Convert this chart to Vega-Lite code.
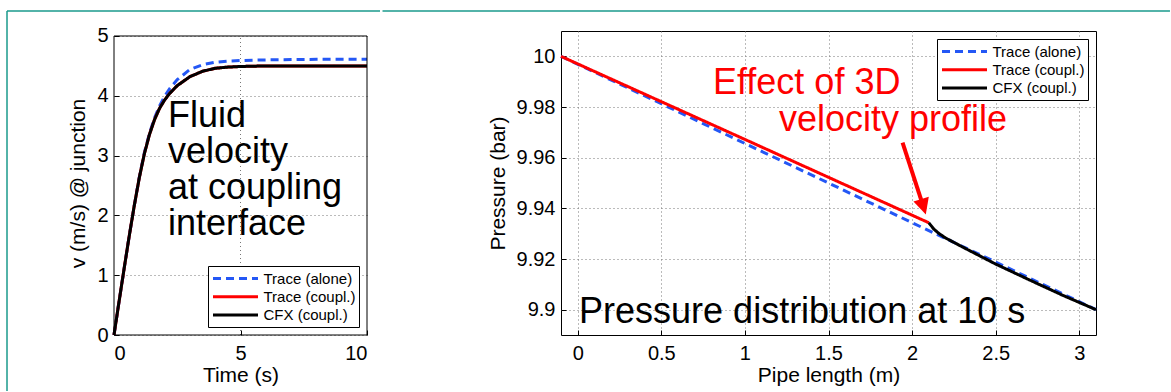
{
  "$schema": "https://vega.github.io/schema/vega-lite/v6.json",
  "padding": {"left": 6, "top": 9, "right": 0, "bottom": 0},
  "background": "white",
  "spacing": 0,
  "columns": 2,
  "align": "none",
  "config": {
    "font": "Liberation Sans",
    "view": {"stroke": "black", "strokeWidth": 1},
    "axis": {
      "domain": false,
      "labelFont": "Liberation Sans",
      "labelFontSize": 20,
      "labelColor": "black",
      "titleFont": "Liberation Sans",
      "titleFontSize": 21,
      "titleFontWeight": "normal",
      "titleColor": "black",
      "tickColor": "black",
      "tickSize": -5,
      "labelPadding": 13,
      "grid": true,
      "gridColor": "#777777",
      "gridDash": [1, 3],
      "gridWidth": 1,
      "gridOpacity": 1
    },
    "axisY": {"titlePadding": 8, "labelPadding": 11},
    "axisX": {"titlePadding": 1},
    "legend": {
      "symbolType": "M-3,0H3",
      "symbolSize": 225,
      "symbolStrokeWidth": 3,
      "symbolOffset": 15,
      "labelFont": "Liberation Sans",
      "labelFontSize": 15,
      "labelColor": "black",
      "labelOffset": 19,
      "rowPadding": 1.3,
      "padding": 3.5,
      "strokeColor": "black",
      "fillColor": "white",
      "cornerRadius": 0,
      "offset": 8
    }
  },
  "datasets": {
    "vel": [
      {"series": "Trace (alone)", "t": 0, "v": 0},
      {"series": "Trace (alone)", "t": 0.2, "v": 0.56},
      {"series": "Trace (alone)", "t": 0.4, "v": 1.11},
      {"series": "Trace (alone)", "t": 0.6, "v": 1.65},
      {"series": "Trace (alone)", "t": 0.8, "v": 2.16},
      {"series": "Trace (alone)", "t": 1.0, "v": 2.64},
      {"series": "Trace (alone)", "t": 1.2, "v": 3.05},
      {"series": "Trace (alone)", "t": 1.4, "v": 3.37},
      {"series": "Trace (alone)", "t": 1.6, "v": 3.63},
      {"series": "Trace (alone)", "t": 1.8, "v": 3.83},
      {"series": "Trace (alone)", "t": 2.0, "v": 3.99},
      {"series": "Trace (alone)", "t": 2.2, "v": 4.12},
      {"series": "Trace (alone)", "t": 2.5, "v": 4.27},
      {"series": "Trace (alone)", "t": 3.0, "v": 4.44},
      {"series": "Trace (alone)", "t": 3.5, "v": 4.52},
      {"series": "Trace (alone)", "t": 4.0, "v": 4.56},
      {"series": "Trace (alone)", "t": 4.5, "v": 4.58},
      {"series": "Trace (alone)", "t": 5.0, "v": 4.59},
      {"series": "Trace (alone)", "t": 6.0, "v": 4.6},
      {"series": "Trace (alone)", "t": 8.0, "v": 4.61},
      {"series": "Trace (alone)", "t": 10.0, "v": 4.61},
      {"series": "Trace (coupl.)", "t": 0, "v": 0},
      {"series": "Trace (coupl.)", "t": 0.2, "v": 0.56},
      {"series": "Trace (coupl.)", "t": 0.4, "v": 1.11},
      {"series": "Trace (coupl.)", "t": 0.6, "v": 1.65},
      {"series": "Trace (coupl.)", "t": 0.8, "v": 2.16},
      {"series": "Trace (coupl.)", "t": 1.0, "v": 2.63},
      {"series": "Trace (coupl.)", "t": 1.2, "v": 3.03},
      {"series": "Trace (coupl.)", "t": 1.4, "v": 3.35},
      {"series": "Trace (coupl.)", "t": 1.6, "v": 3.6},
      {"series": "Trace (coupl.)", "t": 1.8, "v": 3.79},
      {"series": "Trace (coupl.)", "t": 2.0, "v": 3.93},
      {"series": "Trace (coupl.)", "t": 2.2, "v": 4.04},
      {"series": "Trace (coupl.)", "t": 2.5, "v": 4.17},
      {"series": "Trace (coupl.)", "t": 3.0, "v": 4.32},
      {"series": "Trace (coupl.)", "t": 3.5, "v": 4.41},
      {"series": "Trace (coupl.)", "t": 4.0, "v": 4.46},
      {"series": "Trace (coupl.)", "t": 4.5, "v": 4.48},
      {"series": "Trace (coupl.)", "t": 5.0, "v": 4.49},
      {"series": "Trace (coupl.)", "t": 6.0, "v": 4.5},
      {"series": "Trace (coupl.)", "t": 8.0, "v": 4.5},
      {"series": "Trace (coupl.)", "t": 10.0, "v": 4.5},
      {"series": "CFX (coupl.)", "t": 0, "v": 0},
      {"series": "CFX (coupl.)", "t": 0.2, "v": 0.56},
      {"series": "CFX (coupl.)", "t": 0.4, "v": 1.11},
      {"series": "CFX (coupl.)", "t": 0.6, "v": 1.65},
      {"series": "CFX (coupl.)", "t": 0.8, "v": 2.16},
      {"series": "CFX (coupl.)", "t": 1.0, "v": 2.63},
      {"series": "CFX (coupl.)", "t": 1.2, "v": 3.03},
      {"series": "CFX (coupl.)", "t": 1.4, "v": 3.35},
      {"series": "CFX (coupl.)", "t": 1.6, "v": 3.6},
      {"series": "CFX (coupl.)", "t": 1.8, "v": 3.79},
      {"series": "CFX (coupl.)", "t": 2.0, "v": 3.93},
      {"series": "CFX (coupl.)", "t": 2.2, "v": 4.04},
      {"series": "CFX (coupl.)", "t": 2.5, "v": 4.17},
      {"series": "CFX (coupl.)", "t": 3.0, "v": 4.32},
      {"series": "CFX (coupl.)", "t": 3.5, "v": 4.41},
      {"series": "CFX (coupl.)", "t": 4.0, "v": 4.46},
      {"series": "CFX (coupl.)", "t": 4.5, "v": 4.48},
      {"series": "CFX (coupl.)", "t": 5.0, "v": 4.49},
      {"series": "CFX (coupl.)", "t": 6.0, "v": 4.5},
      {"series": "CFX (coupl.)", "t": 8.0, "v": 4.5},
      {"series": "CFX (coupl.)", "t": 10.0, "v": 4.5}
    ],
    "pres": [
      {"series": "Trace (alone)", "x": -0.1, "p": 10.0},
      {"series": "Trace (alone)", "x": 0.5, "p": 9.9813},
      {"series": "Trace (alone)", "x": 1.0, "p": 9.9656},
      {"series": "Trace (alone)", "x": 1.5, "p": 9.95},
      {"series": "Trace (alone)", "x": 2.1, "p": 9.9312},
      {"series": "Trace (alone)", "x": 2.5, "p": 9.9188},
      {"series": "Trace (alone)", "x": 3.1, "p": 9.9},
      {"series": "Trace (coupl.)", "x": -0.1, "p": 10.0},
      {"series": "Trace (coupl.)", "x": 1.0, "p": 9.9672},
      {"series": "Trace (coupl.)", "x": 2.1, "p": 9.9343},
      {"series": "CFX (coupl.)", "x": 2.1, "p": 9.9343},
      {"series": "CFX (coupl.)", "x": 2.13, "p": 9.9318},
      {"series": "CFX (coupl.)", "x": 2.16, "p": 9.9301},
      {"series": "CFX (coupl.)", "x": 2.2, "p": 9.9283},
      {"series": "CFX (coupl.)", "x": 2.3, "p": 9.9248},
      {"series": "CFX (coupl.)", "x": 2.4, "p": 9.9214},
      {"series": "CFX (coupl.)", "x": 2.5, "p": 9.918},
      {"series": "CFX (coupl.)", "x": 2.7, "p": 9.9118},
      {"series": "CFX (coupl.)", "x": 2.9, "p": 9.9057},
      {"series": "CFX (coupl.)", "x": 3.1, "p": 9.9}
    ]
  },
  "concat": [
    {
      "width": 253,
      "height": 304,
      "view": {"stroke": null},
      "layer": [
        {
          "data": {"values": [{}]},
          "mark": {"type": "rule", "color": "#777777", "strokeWidth": 1, "strokeDash": [1, 3]},
          "encoding": {"x": {"datum": 5}, "y": {"datum": 0}, "y2": {"datum": 5}}
        },
        {
          "data": {"name": "vel"},
          "mark": {"type": "line", "strokeWidth": 3},
          "encoding": {
            "x": {"field": "t", "type": "quantitative", "scale": {"domain": [0, 10], "nice": false, "zero": false}, "axis": {"title": "Time (s)", "values": [0, 5, 10], "format": "d", "grid": false}},
            "y": {"field": "v", "type": "quantitative", "scale": {"domain": [0, 5.0836], "nice": false, "zero": false}, "axis": {"title": "v (m/s) @ junction", "values": [0, 1, 2, 3, 4, 5], "format": "d"}},
            "color": {"field": "series", "type": "nominal", "scale": {"domain": ["Trace (alone)", "Trace (coupl.)", "CFX (coupl.)"], "range": ["#2457f5", "#ff0000", "#000000"]}, "legend": {"title": null, "orient": "bottom-right"}},
            "strokeDash": {"field": "series", "type": "nominal", "scale": {"domain": ["Trace (alone)", "Trace (coupl.)", "CFX (coupl.)"], "range": [[8, 5], [1, 0], [1, 0]]}, "legend": {"title": null, "orient": "bottom-right"}}
          }
        },
        {
          "data": {"values": [{}]},
          "mark": {"type": "rule", "color": "black", "strokeWidth": 1},
          "encoding": {"x": {"datum": 0}, "x2": {"datum": 10}, "y": {"datum": 5}}
        },
        {
          "data": {"values": [{}]},
          "mark": {"type": "rule", "color": "black", "strokeWidth": 1},
          "encoding": {"x": {"datum": 0}, "x2": {"datum": 10}, "y": {"datum": 0}}
        },
        {
          "data": {"values": [{}]},
          "mark": {"type": "rule", "color": "black", "strokeWidth": 1},
          "encoding": {"x": {"datum": 0}, "y": {"datum": 0}, "y2": {"datum": 5}}
        },
        {
          "data": {"values": [{}]},
          "mark": {"type": "rule", "color": "black", "strokeWidth": 1},
          "encoding": {"x": {"datum": 10}, "y": {"datum": 0}, "y2": {"datum": 5}}
        },
        {
          "data": {"values": [{}]},
          "mark": {"type": "text", "align": "left", "baseline": "alphabetic", "fontSize": 36, "lineHeight": 36, "color": "black", "font": "Liberation Sans"},
          "encoding": {
            "x": {"datum": 2.134},
            "y": {"datum": 3.478},
            "text": {"value": ["Fluid", "velocity", "at coupling", "interface"]}
          }
        },
        {
          "data": {"values": [{}]},
          "mark": {"type": "rule", "color": "#1a9a8c", "strokeWidth": 1.5},
          "encoding": {
            "x": {"datum": -4.229},
            "x2": {"datum": 10.514},
            "y": {"datum": 5.418}
          }
        },
        {
          "data": {"values": [{}]},
          "mark": {"type": "rule", "color": "#1a9a8c", "strokeWidth": 1.5},
          "encoding": {
            "x": {"datum": -4.229},
            "y": {"datum": 5.418},
            "y2": {"datum": -0.936}
          }
        }
      ]
    },
    {
      "width": 535,
      "height": 304,
      "layer": [
        {
          "data": {"name": "pres"},
          "mark": {"type": "line", "strokeWidth": 3},
          "encoding": {
            "x": {"field": "x", "type": "quantitative", "scale": {"domain": [-0.1, 3.1], "nice": false, "zero": false}, "axis": {"title": "Pipe length (m)", "values": [0, 0.5, 1, 1.5, 2, 2.5, 3], "format": "~g"}},
            "y": {"field": "p", "type": "quantitative", "scale": {"domain": [9.89, 10.01], "nice": false, "zero": false}, "axis": {"title": "Pressure (bar)", "values": [9.9, 9.92, 9.94, 9.96, 9.98, 10], "format": "~g"}},
            "color": {"field": "series", "type": "nominal", "scale": {"domain": ["Trace (alone)", "Trace (coupl.)", "CFX (coupl.)"], "range": ["#2457f5", "#ff0000", "#000000"]}, "legend": {"title": null, "orient": "top-right"}},
            "strokeDash": {"field": "series", "type": "nominal", "scale": {"domain": ["Trace (alone)", "Trace (coupl.)", "CFX (coupl.)"], "range": [[8, 5], [1, 0], [1, 0]]}, "legend": {"title": null, "orient": "top-right"}}
          }
        },
        {
          "data": {"values": [{}]},
          "mark": {"type": "text", "align": "left", "baseline": "alphabetic", "fontSize": 36, "color": "#ff0000", "font": "Liberation Sans"},
          "encoding": {"x": {"datum": 0.809}, "y": {"datum": 9.9852}, "text": {"value": "Effect of 3D"}}
        },
        {
          "data": {"values": [{}]},
          "mark": {"type": "text", "align": "left", "baseline": "alphabetic", "fontSize": 36, "color": "#ff0000", "font": "Liberation Sans"},
          "encoding": {"x": {"datum": 1.204}, "y": {"datum": 9.9705}, "text": {"value": "velocity profile"}}
        },
        {
          "data": {"values": [{}]},
          "mark": {"type": "text", "align": "left", "baseline": "alphabetic", "fontSize": 36, "color": "black", "font": "Liberation Sans"},
          "encoding": {"x": {"datum": 0.008}, "y": {"datum": 9.8947}, "text": {"value": "Pressure distribution at 10 s"}}
        },
        {
          "data": {"values": [{}]},
          "mark": {"type": "rule", "color": "#ff0000", "strokeWidth": 4},
          "encoding": {"x": {"datum": 1.943}, "y": {"datum": 9.9659}, "x2": {"datum": 2.068}, "y2": {"datum": 9.9406}}
        },
        {
          "data": {"values": [{}]},
          "mark": {"type": "point", "shape": "M-1,-1L1,-1L0,1Z", "size": 256, "angle": -17, "filled": true, "color": "#ff0000", "opacity": 1},
          "encoding": {"x": {"datum": 2.068}, "y": {"datum": 9.9406}}
        },
        {
          "data": {"values": [{}]},
          "mark": {"type": "rule", "color": "#1a9a8c", "strokeWidth": 1.5},
          "encoding": {"x": {"datum": -1.1676}, "x2": {"datum": 3.5424}, "y": {"datum": 10.0179}}
        }
      ]
    }
  ],
  "resolve": {
    "scale": {"color": "independent", "strokeDash": "independent"},
    "legend": {"color": "independent", "strokeDash": "independent"}
  }
}
